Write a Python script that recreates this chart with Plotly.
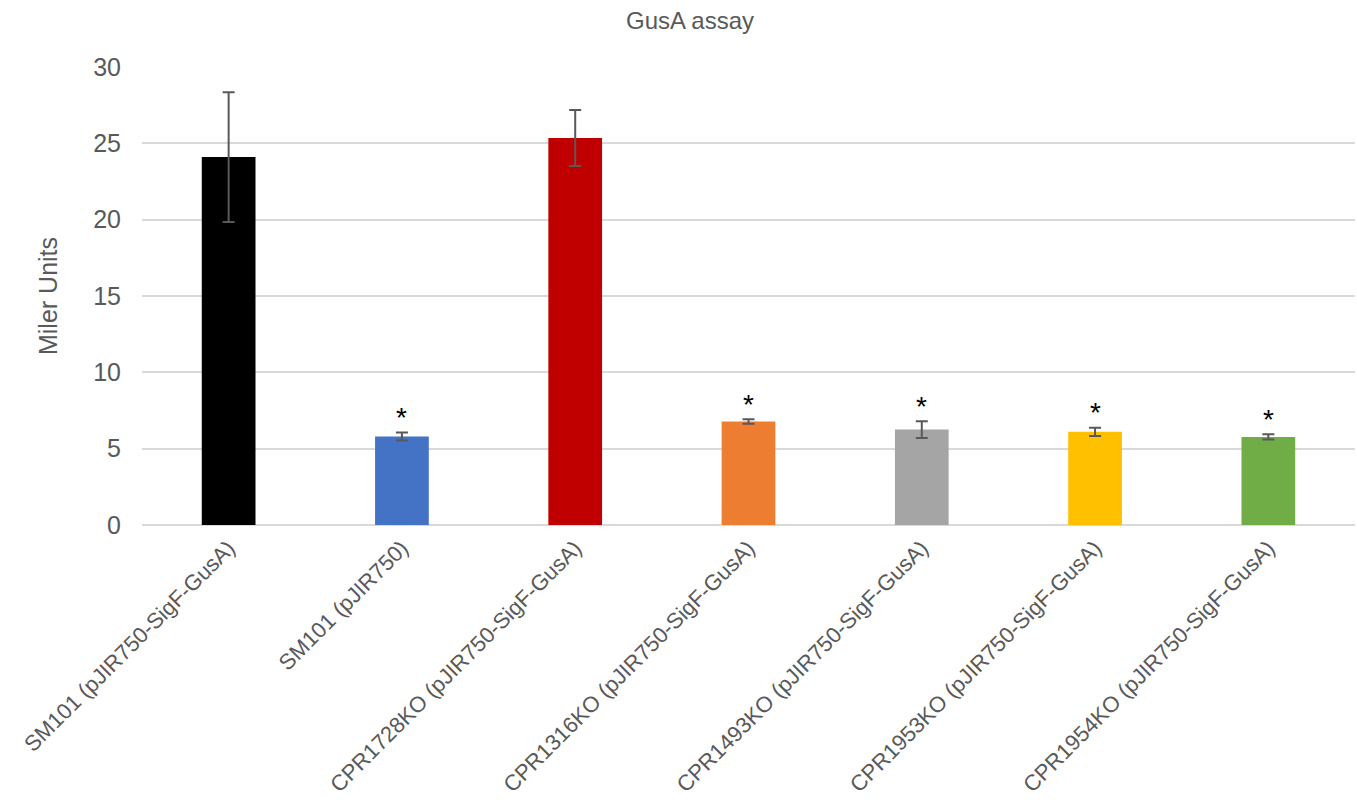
import plotly.graph_objects as go

# GusA reporter activity per strain
strains = [
    "SM101 (pJIR750-SigF-GusA)",
    "SM101 (pJIR750)",
    "CPR1728KO (pJIR750-SigF-GusA)",
    "CPR1316KO (pJIR750-SigF-GusA)",
    "CPR1493KO (pJIR750-SigF-GusA)",
    "CPR1953KO (pJIR750-SigF-GusA)",
    "CPR1954KO (pJIR750-SigF-GusA)",
]
miller_units = [24.1, 5.8, 25.35, 6.78, 6.25, 6.1, 5.77]
std_err = [4.25, 0.26, 1.83, 0.14, 0.55, 0.27, 0.17]
significant = [False, True, False, True, True, True, True]
bar_colors = ["#000000", "#4472C4", "#C00000", "#ED7D31", "#A5A5A5", "#FFC000", "#70AD47"]

FONT = "Liberation Sans, Arial, sans-serif"
TEXT_GREY = "#595959"

fig = go.Figure()
fig.add_trace(go.Bar(
    x=strains,
    y=miller_units,
    marker=dict(color=bar_colors, line=dict(width=0)),
    error_y=dict(type="data", array=std_err, visible=True,
                 color=TEXT_GREY, thickness=2, width=6),
    showlegend=False,
))

# significance markers above the error bars
for name, val, err, sig in zip(strains, miller_units, std_err, significant):
    if sig:
        fig.add_annotation(
            x=name, y=val + err, text="*", showarrow=False,
            yanchor="middle", yshift=15,
            font=dict(family=FONT, size=28, color="#000000"),
        )

fig.update_layout(
    width=1357, height=807,
    paper_bgcolor="white", plot_bgcolor="white",
    margin=dict(l=142, r=2, t=67, b=282, autoexpand=False),
    bargap=0.69,
    font=dict(family=FONT, color=TEXT_GREY),
    title=dict(text="GusA assay", x=690 / 1357, xanchor="center",
               xref="container",
               y=1 - 21 / 807, yanchor="middle",
               font=dict(family=FONT, size=24, color=TEXT_GREY)),
    yaxis=dict(
        range=[0, 30], dtick=5, tick0=0,
        showgrid=True, gridcolor="#D9D9D9", gridwidth=2,
        zeroline=True, zerolinecolor="#D9D9D9", zerolinewidth=2,
        showline=False, ticks="", automargin=False,
        ticklabelstandoff=20,
        tickfont=dict(family=FONT, size=25, color=TEXT_GREY),
        title=dict(text="Miler Units", standoff=28,
                   font=dict(family=FONT, size=25, color=TEXT_GREY)),
    ),
    xaxis=dict(
        showline=False, showgrid=False, ticks="", automargin=False,
        tickangle=-45,
        ticklabelstandoff=5,
        tickfont=dict(family=FONT, size=22, color=TEXT_GREY),
    ),
)

fig.write_html("out.html")
